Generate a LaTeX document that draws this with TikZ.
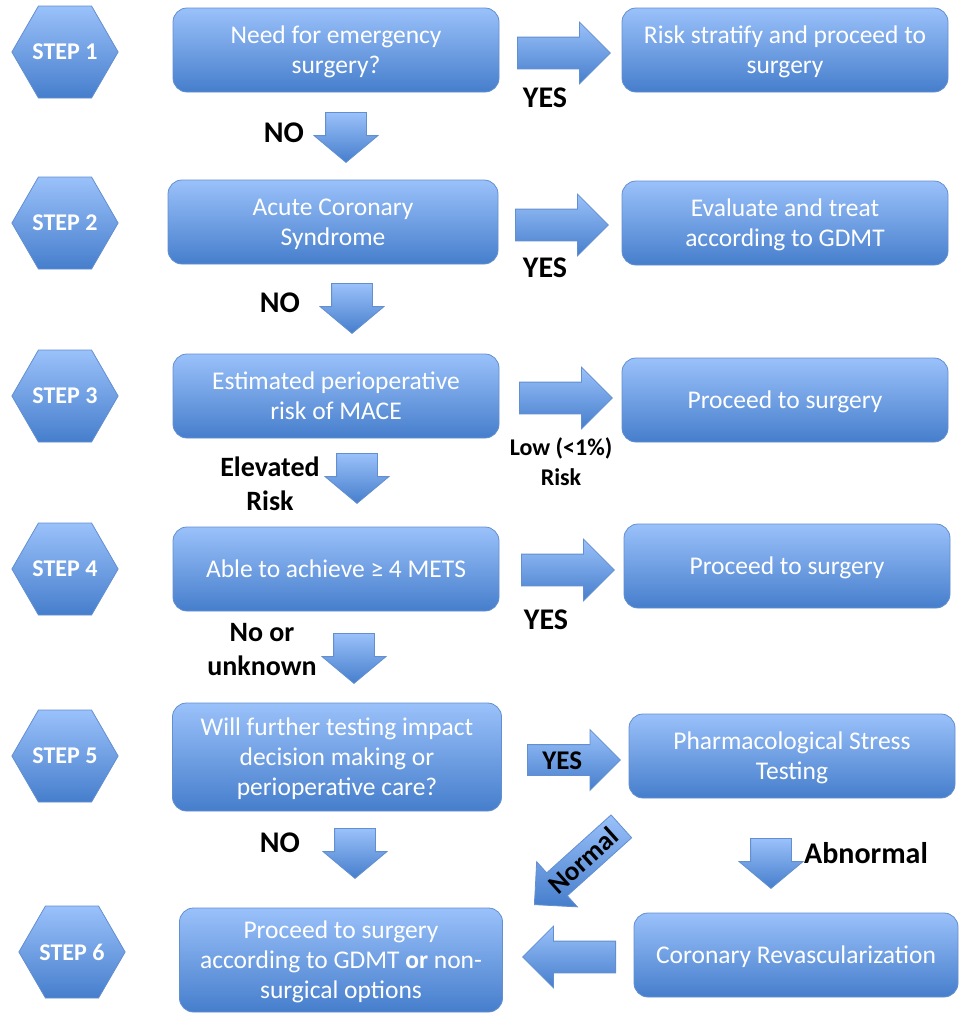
\documentclass[tikz,border=0pt]{standalone}
\usepackage{fontspec}
\setmainfont{Carlito}
\usepackage{xcolor}
\usetikzlibrary{shapes.geometric,shapes.arrows}

\definecolor{boxtop}{RGB}{154,193,250}
\definecolor{boxbot}{RGB}{70,126,204}
\definecolor{boxline}{RGB}{98,143,208}

\begin{document}
\begin{tikzpicture}[x=1pt,y=-1pt,
    bluefill/.style={draw=boxline, line width=0.8pt, top color=boxtop, bottom color=boxbot},
    stephex/.style={bluefill, regular polygon, regular polygon sides=6, minimum size=106pt,
      inner sep=0pt, text=white, font=\fontsize{24}{28}\selectfont\bfseries},
    flowbox/.style={bluefill, rounded corners=14pt, text=white, align=center, text depth=0pt,
      minimum width=326pt, minimum height=84pt, inner sep=2pt, font=\fontsize{25.5}{30}\selectfont},
    sidearrow/.style={bluefill, single arrow, single arrow head extend=15pt,
      inner xsep=0pt, inner ysep=15.5pt, minimum height=93pt, anchor=tail},
    downarrow/.style={bluefill, single arrow, single arrow head extend=11.5pt, single arrow tip angle=100,
      inner xsep=0pt, inner ysep=20pt, minimum height=50pt, rotate=-90, anchor=tail},
    textarrow/.style={bluefill, single arrow, single arrow head extend=15pt, text=black,
      inner xsep=2pt, inner ysep=6pt, text height=18pt, text depth=0pt, font=\fontsize{27}{30}\selectfont\bfseries},
    lbl/.style={align=center, font=\fontsize{30}{34}\selectfont\bfseries}]

  \useasboundingbox (0,0) rectangle (960,1013);

  % steps
  \node[stephex] (s1) at (65,52) {STEP 1};
  \node[stephex] (s2) at (65,223) {STEP 2};
  \node[stephex] (s3) at (65,396) {STEP 3};
  \node[stephex] (s4) at (65,569) {STEP 4};
  \node[stephex] (s5) at (65,756) {STEP 5};
  \node[stephex] (s6) at (72,952) {STEP 6};

  % main column
  \node[flowbox] (q1) at (336,50) {Need for emergency\\surgery?};
  \node[flowbox, minimum width=330pt] (q2) at (333,222) {Acute Coronary\\Syndrome};
  \node[flowbox] (q3) at (336,396) {Estimated perioperative\\risk of MACE};
  \node[flowbox] (q4) at (336,569) {Able to achieve ≥ 4 METS};
  \node[flowbox, minimum width=329pt, minimum height=108pt] (q5) at (337,757) {Will further testing impact\\decision making or\\perioperative care?};
  \node[flowbox, minimum width=323pt, minimum height=104pt] (q6) at (341,960) {Proceed to surgery\\according to GDMT \textbf{or} non-\\surgical options};

  % right column
  \node[flowbox] (r1) at (785,50) {Risk stratify and proceed to\\surgery};
  \node[flowbox] (r2) at (785,223) {Evaluate and treat\\according to GDMT};
  \node[flowbox] (r3) at (785,400) {Proceed to surgery};
  \node[flowbox] (r4) at (787,566) {Proceed to surgery};
  \node[flowbox] (r5) at (792,756) {Pharmacological Stress\\Testing};
  \node[flowbox, minimum width=324pt] (r6) at (796,955) {Coronary Revascularization};

  % block arrows
  \node[sidearrow] (y1) at (517,53) {};
  \node[sidearrow] (y2) at (515,225) {};
  \node[sidearrow] (y3) at (519,398) {};
  \node[sidearrow] (y4) at (521,570) {};
  \node[textarrow, minimum height=93pt, anchor=tail] (y5) at (527,760) {YES\hspace*{8pt}};
  \node[downarrow] (d1) at (346,112) {};
  \node[downarrow] (d2) at (352,283) {};
  \node[downarrow] (d3) at (357,453) {};
  \node[downarrow] (d4) at (354,633) {};
  \node[downarrow] (d5) at (355,828) {};
  \node[downarrow] (d6) at (771,838) {};
  \node[sidearrow, shape border rotate=180] (l6) at (616,957) {};
  \node[textarrow, minimum height=117pt, shape border rotate=180, rotate=42, anchor=tip] (nrm) at (534,905) {Normal};

  % labels
  \node[lbl] (yes1) at (545,98) {YES};
  \node[lbl] (yes2) at (545,268) {YES};
  \node[lbl] (yes4) at (546,620) {YES};
  \node[lbl, font=\fontsize{24}{30}\selectfont\bfseries] (low) at (561,462) {Low (<1\%)\\Risk};
  \node[lbl] (no1) at (284,133) {NO};
  \node[lbl] (no2) at (280,303) {NO};
  \node[lbl] (no5) at (280,843) {NO};
  \node[lbl, font=\fontsize{28}{34}\selectfont\bfseries] (elev) at (270,484) {Elevated\\Risk};
  \node[lbl, font=\fontsize{28}{34}\selectfont\bfseries] (unk) at (262,650) {No or\\unknown};
  \node[lbl] (abn) at (866,853) {Abnormal};
\end{tikzpicture}
\end{document}
